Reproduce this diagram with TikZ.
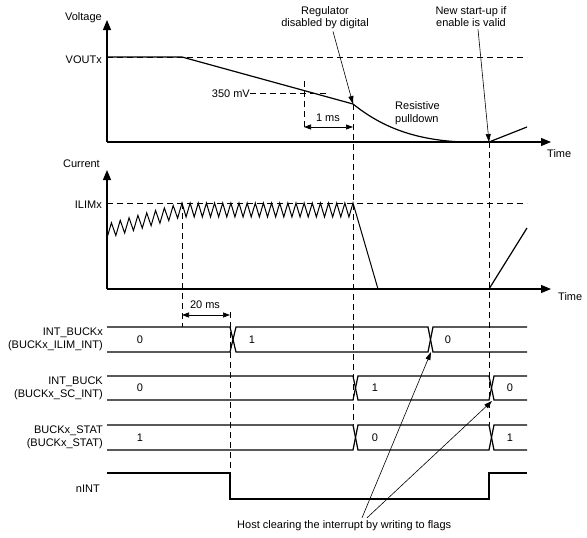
\documentclass[tikz,border=0pt]{standalone}
\usepackage{fontspec}
\setmainfont{Liberation Sans}
\usepackage{tikz}
\usetikzlibrary{arrows.meta}

\tikzset{
    axis/.style={line width=1.1pt, -{Triangle[length=10pt,width=8pt]}},
    sig/.style={line width=1.2pt},
    guide/.style={line width=0.7pt, dash pattern=on 6pt off 4pt},
    dimline/.style={line width=0.7pt, {Triangle[length=7pt,width=5pt]}-{Triangle[length=7pt,width=5pt]}},
    note/.style={line width=0.6pt, -{Triangle[length=8pt,width=5pt]}},
    lbl/.style={font=\fontsize{11}{13}\selectfont, inner sep=0pt}
}

\begin{document}
\begin{tikzpicture}[x=1pt, y=-1pt]
    \useasboundingbox (0,0) rectangle (587,538);

    % Voltage axes
    \draw[axis] (107,142) -- (107,20);
    \draw[axis] (107,142) -- (551,142);
    \node[lbl, anchor=base east] (vlab) at (102,20) {Voltage};
    \node[lbl, anchor=base west] (tvlab) at (547,157) {Time};
    \node[lbl, anchor=base east] (vout) at (102,63) {VOUTx};
    \node[lbl, anchor=base east] (mv) at (250,97) {350 mV};

    % Voltage reference levels
    \draw[guide] (mv.east |- 0,93) -- (330,93);
    \draw[guide] (107,57) -- (527,57);
    \draw[guide] (304,81) -- (304,129);

    % Output voltage
    \draw[sig] (107,57) -- (182,57) -- (353,104)
        .. controls (378,124) and (410,140) .. (463,142);
    \draw[sig] (489,142) -- (527,127);

    % 1 ms
    \draw[dimline] (304,127) -- (353,127);
    \node[lbl, anchor=base] (onems) at (328,121) {1 ms};
    \node[lbl, align=left, anchor=base west] (pull) at (395,122) {Resistive\\pulldown};

    % Notes on top
    \node[lbl, align=center, anchor=base] (reg) at (325,27) {Regulator\\disabled by digital};
    \node[lbl, align=center, anchor=base] (newsu) at (471,27) {New start-up if\\enable is valid};
    \coordinate (off) at (353,104);
    \coordinate (restart) at (489,142);
    \draw[note] ([xshift=8pt,yshift=-2pt]reg.south) -- (off);
    \draw[note] ([xshift=7pt,yshift=-2pt]newsu.south) -- (restart);

    % Current axes
    \draw[axis] (107,289) -- (107,170);
    \draw[axis] (107,289) -- (551,289);
    \node[lbl, anchor=base east] (ilab) at (100,167) {Current};
    \node[lbl, anchor=base west] (tilab) at (558,300) {Time};
    \node[lbl, anchor=base east] (ilim) at (102,208) {ILIMx};
    \draw[guide] (107,203) -- (527,203);

    % Inductor current
    \draw[line width=1pt] (107,238)
        \foreach \k in {0,...,8}{ -- ({107+8.824*\k},{238-2.4706*\k})
                                 -- ({107+8.824*(\k+0.5)},{224-2.4706*(\k+0.5)}) }
        \foreach \k in {1,...,21}{ -- ({182+8.143*(\k-0.5)},217) -- ({182+8.143*\k},203) }
        -- (378,289);
    \draw[line width=2.3pt] (378,289) -- (489,289);
    \draw[sig] (489,289) -- (527,228);

    % Time markers
    \draw[guide] (182,203) -- (182,327);
    \draw[guide] (230,312) -- (230,473);
    \draw[guide] (353,104) -- (353,425);
    \draw[guide] (489,142) -- (489,425);

    % 20 ms
    \draw[dimline] (182,315) -- (230,315);
    \node[lbl, anchor=base] (twenty) at (205,308) {20 ms};

    % Row labels
    \node[lbl, align=right, anchor=east] (r1) at (103,339.5) {INT\_BUCKx\\(BUCKx\_ILIM\_INT)};
    \node[lbl, align=right, anchor=east] (r2) at (103,388) {INT\_BUCK\\(BUCKx\_SC\_INT)};
    \node[lbl, align=right, anchor=east] (r3) at (103,437.5) {BUCKx\_STAT\\(BUCKx\_STAT)};
    \node[lbl, anchor=east] (r4) at (100,489) {nINT};

    % INT_BUCKx
    \draw[sig] (107,327) -- (230,327) -- (236,352) -- (428,352) -- (433,327) -- (527,327);
    \draw[sig] (107,352) -- (230,352) -- (236,327) -- (428,327) -- (433,352) -- (527,352);
    \node[lbl] (v11) at (140,339.5) {0};
    \node[lbl] (v12) at (252,339.5) {1};
    \node[lbl] (v13) at (448,339.5) {0};

    % INT_BUCK
    \draw[sig] (107,376) -- (353,376) -- (358,400) -- (489,400) -- (494,376) -- (527,376);
    \draw[sig] (107,400) -- (353,400) -- (358,376) -- (489,376) -- (494,400) -- (527,400);
    \node[lbl] (v21) at (140,388) {0};
    \node[lbl] (v22) at (375,388) {1};
    \node[lbl] (v23) at (510,388) {0};

    % BUCKx_STAT
    \draw[sig] (107,425) -- (353,425) -- (358,450) -- (489,450) -- (494,425) -- (527,425);
    \draw[sig] (107,450) -- (353,450) -- (358,425) -- (489,425) -- (494,450) -- (527,450);
    \node[lbl] (v31) at (140,437.5) {1};
    \node[lbl] (v32) at (375,437.5) {0};
    \node[lbl] (v33) at (510,437.5) {1};

    % nINT
    \draw[sig] (107,473) -- (230,473) -- (230,499) -- (489,499) -- (489,473) -- (527,473);

    % Host clearing
    \node[lbl, anchor=base west] (host) at (237,528) {Host clearing the interrupt by writing to flags};
    \coordinate (clr1) at (431,352);
    \coordinate (clr2) at (492,401);
    \draw[note] ([xshift=125pt,yshift=2pt]host.north west) -- (clr1);
    \draw[note] ([xshift=130pt,yshift=2pt]host.north west) -- (clr2);
\end{tikzpicture}
\end{document}
